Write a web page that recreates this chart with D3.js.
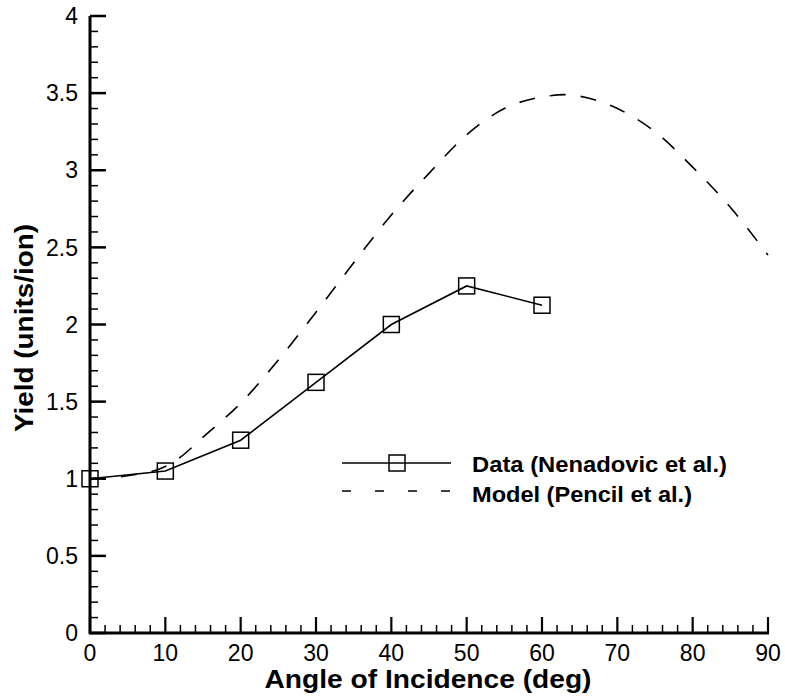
<!DOCTYPE html>
<html><head><meta charset="utf-8">
<script src="https://cdn.jsdelivr.net/npm/d3@7"></script>
<style>body{margin:0;background:#fff}</style>
</head><body>
<svg id="c" width="785" height="698"></svg>
<script>
const dataAngles = [0, 10, 20, 30, 40, 50, 60];
const dataYield  = [1.0, 1.05, 1.25, 1.625, 2.0, 2.25, 2.125];
const modelAngles = [0, 5, 10, 12, 15, 20, 25, 30, 35, 40, 45, 50, 55, 60, 63, 65, 70, 75, 80, 85, 90];
const modelYield  = [1.0, 1.02, 1.08, 1.14, 1.27, 1.49, 1.77, 2.08, 2.40, 2.71, 2.98, 3.23, 3.40, 3.475, 3.49, 3.48, 3.40, 3.25, 3.02, 2.76, 2.45];
const xTicks = [0, 10, 20, 30, 40, 50, 60, 70, 80, 90];
const yTicks = [0, 0.5, 1, 1.5, 2, 2.5, 3, 3.5, 4];
const yTickLabels = ["0", "0.5", "1", "1.5", "2", "2.5", "3", "3.5", "4"];
const legendLabels = ["Data (Nenadovic et al.)", "Model (Pencil et al.)"];

const svg = d3.select("#c");
const x = d3.scaleLinear().domain([0, 90]).range([90, 768]);
const y = d3.scaleLinear().domain([0, 4]).range([633, 16]);
const font = "Liberation Sans, Arial, Helvetica, sans-serif";

function stretch(sel, f) {
  sel.each(function() {
    const w = this.getComputedTextLength();
    d3.select(this).attr("textLength", w * f).attr("lengthAdjust", "spacingAndGlyphs");
  });
}

// minor ticks
const xMinor = d3.range(0, 91, 2).filter(v => v % 10 !== 0);
const yMinor = d3.range(0, 41, 1).map(v => v / 10).filter(v => Math.round(v * 10) % 5 !== 0);

const g = svg.append("g");
g.selectAll(".xmin").data(xMinor).enter().append("line")
  .attr("x1", d => x(d)).attr("x2", d => x(d)).attr("y1", y(0)).attr("y2", y(0) - 8)
  .attr("stroke", "#000").attr("stroke-width", 1.5);
g.selectAll(".xmaj").data(xTicks).enter().append("line")
  .attr("x1", d => x(d)).attr("x2", d => x(d)).attr("y1", y(0)).attr("y2", y(0) - 16)
  .attr("stroke", "#000").attr("stroke-width", 2.2);
g.selectAll(".ymin").data(yMinor).enter().append("line")
  .attr("x1", x(0)).attr("x2", x(0) + 8).attr("y1", d => y(d)).attr("y2", d => y(d))
  .attr("stroke", "#000").attr("stroke-width", 1.5);
g.selectAll(".ymaj").data(yTicks).enter().append("line")
  .attr("x1", x(0)).attr("x2", x(0) + 16).attr("y1", d => y(d)).attr("y2", d => y(d))
  .attr("stroke", "#000").attr("stroke-width", 2.5);

// axis lines
g.append("line").attr("x1", x(0)).attr("x2", x(0)).attr("y1", y(0) + 1).attr("y2", y(4))
  .attr("stroke", "#000").attr("stroke-width", 3);
g.append("line").attr("x1", x(0) - 1).attr("x2", x(90) + 1).attr("y1", y(0)).attr("y2", y(0))
  .attr("stroke", "#000").attr("stroke-width", 3);

// tick labels
g.selectAll(".xl").data(xTicks).enter().append("text")
  .attr("x", d => x(d)).attr("y", 661).attr("text-anchor", "middle")
  .attr("font-family", font).attr("font-size", 23).text(d => d);
g.selectAll(".yl").data(yTicks).enter().append("text")
  .attr("x", 78).attr("y", d => y(d) + 8.2).attr("text-anchor", "end")
  .attr("font-family", font).attr("font-size", 23).text((d, i) => yTickLabels[i]);

// titles
const xt = svg.append("text").attr("x", 428).attr("y", 688).attr("text-anchor", "middle")
  .attr("font-family", font).attr("font-size", 26).attr("font-weight", "bold")
  .text("Angle of Incidence (deg)");
xt.attr("textLength", 327).attr("lengthAdjust", "spacingAndGlyphs");
const yt = svg.append("text").attr("transform", "translate(33,328) rotate(-90)").attr("text-anchor", "middle")
  .attr("font-family", font).attr("font-size", 26).attr("font-weight", "bold")
  .text("Yield (units/ion)");
yt.attr("textLength", 208).attr("lengthAdjust", "spacingAndGlyphs");

// model curve
const model = modelAngles.map((a, i) => [a, modelYield[i]]);
svg.append("path").datum(model)
  .attr("d", d3.line().x(d => x(d[0])).y(d => y(d[1])).curve(d3.curveMonotoneX))
  .attr("fill", "none").attr("stroke", "#000").attr("stroke-width", 1.6)
  .attr("stroke-dasharray", "16,15");

// data line
const data = dataAngles.map((a, i) => [a, dataYield[i]]);
svg.append("path").datum(data)
  .attr("d", d3.line().x(d => x(d[0])).y(d => y(d[1])))
  .attr("fill", "none").attr("stroke", "#000").attr("stroke-width", 1.6);
svg.selectAll(".sq").data(data).enter().append("rect")
  .attr("x", d => x(d[0]) - 8).attr("y", d => y(d[1]) - 8)
  .attr("width", 16).attr("height", 16)
  .attr("fill", "none").attr("stroke", "#000").attr("stroke-width", 1.5);

// legend
const lg = svg.append("g");
lg.append("line").attr("x1", 342).attr("x2", 451).attr("y1", 463).attr("y2", 463)
  .attr("stroke", "#000").attr("stroke-width", 1.6);
lg.append("rect").attr("x", 389).attr("y", 455).attr("width", 16).attr("height", 16)
  .attr("fill", "none").attr("stroke", "#000").attr("stroke-width", 1.5);
lg.append("line").attr("x1", 342).attr("x2", 451).attr("y1", 491).attr("y2", 491)
  .attr("stroke", "#000").attr("stroke-width", 1.6).attr("stroke-dasharray", "9,24");
const lt = lg.selectAll("text").data(legendLabels).enter().append("text")
  .attr("x", 472).attr("y", (d, i) => 472 + i * 30)
  .attr("font-family", font).attr("font-size", 22).attr("font-weight", "bold")
  .text(d => d);
lt.attr("textLength", (d, i) => [255, 220][i]).attr("lengthAdjust", "spacingAndGlyphs");
</script>
</body></html>
